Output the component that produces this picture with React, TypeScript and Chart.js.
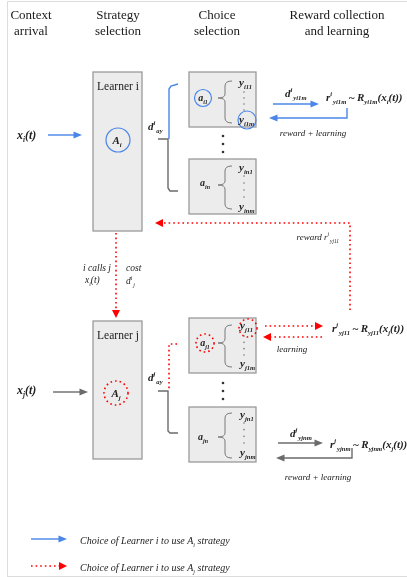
import { useEffect, useRef } from "react";
import { Chart, registerables } from "chart.js";
Chart.register(...registerables);

const VIEW_W = 407;
const VIEW_H = 577;

// column headers: [text, centerX, y]
const headers: [string, number, number][] = [
  ["Context", 31, 15], ["arrival", 31, 31],
  ["Strategy", 118, 15], ["selection", 118, 31],
  ["Choice", 217, 15], ["selection", 217, 31],
  ["Reward collection", 337, 15], ["and learning", 337, 31],
];

// learner / choice boxes: [x1, y1, x2, y2]
const learnerBoxes: number[][] = [[93, 72, 142, 231], [93, 321, 142, 459]];
const choiceBoxes: number[][] = [
  [189, 72, 256, 127], [189, 159, 256, 214],
  [189, 318, 256, 373], [189, 407, 256, 462],
];

// circles: [cx, cy, r, kind]
const circles: [number, number, number, string][] = [
  [118, 140, 12, "blue"], [203, 98, 8.5, "blue"], [247, 120, 9, "blue"],
  [116, 393, 12, "red"], [205, 343, 9, "red"], [248, 328, 9, "red"],
];

// curly braces inside choice boxes: [xTip, yTop, yMid, yBottom]
const braces: number[][] = [
  [218, 81, 98, 123], [218, 166, 185, 209],
  [218, 325, 343, 367], [218, 413, 437, 458],
];

// vertical ellipsis inside boxes: [x, yStart, yEnd, count]
const innerDots: number[][] = [
  [244, 92, 110, 4], [244, 176, 197, 4], [244, 336, 355, 4], [244, 423, 443, 4],
];
// ellipsis between boxes: [x, y]
const outerDots: number[][] = [
  [223, 136], [223, 144], [223, 152], [223, 383], [223, 391], [223, 399],
];

// connectors: points, kind, arrow head at end
const connectors: { pts: number[][]; kind: string; head: boolean }[] = [
  { pts: [[48, 135], [82, 135]], kind: "blue", head: true },
  { pts: [[53, 392], [88, 392]], kind: "gray", head: true },
  { pts: [[116, 233], [116, 318]], kind: "red", head: true },
  { pts: [[350, 310], [350, 223], [155, 223]], kind: "red", head: true },
  { pts: [[273, 104], [319, 104]], kind: "blue", head: true },
  { pts: [[347, 108], [347, 118], [269, 118]], kind: "blue", head: true },
  { pts: [[265, 326], [323, 326]], kind: "red", head: true },
  { pts: [[322, 337], [263, 337]], kind: "red", head: true },
  { pts: [[278, 443], [323, 443]], kind: "gray", head: true },
  { pts: [[352, 448], [352, 458], [276, 458]], kind: "gray", head: true },
  { pts: [[31, 539], [67, 539]], kind: "blue", head: true },
  { pts: [[31, 566], [67, 566]], kind: "red", head: true },
  // big brackets
  { pts: [[178, 84], [171, 86], [169, 89], [169, 139]], kind: "blue", head: false },
  { pts: [[158, 139], [168, 139], [168, 188], [170, 191], [178, 191]], kind: "gray", head: false },
  { pts: [[177, 344], [169, 344], [169, 390]], kind: "red", head: false },
  { pts: [[158, 391], [168, 391], [168, 431], [170, 433], [178, 433]], kind: "gray", head: false },
];

// labels: [text, x, y, size, align, style]
const labels: [string, number, number, number, string, string][] = [
  ["Learner i", 118, 86, 11.5, "c", "plain"],
  ["Learner j", 118, 335, 11.5, "c", "plain"],
  ["A_{i}", 117, 140, 11, "c", "math"],
  ["A_{j}", 116, 393, 11, "c", "math"],
  ["x_{i}(t)", 17, 135, 12, "l", "math"],
  ["x_{j}(t)", 17, 390, 12, "l", "math"],
  ["d^{i}_{ay}", 148, 126, 11, "l", "math"],
  ["d^{j}_{ay}", 148, 377, 11, "l", "math"],
  ["a_{i1}", 203, 98, 10, "c", "math"],
  ["y_{i11}", 239, 82, 11, "l", "math"],
  ["y_{i1m}", 239, 119, 11, "l", "math"],
  ["a_{in}", 205, 183, 10, "c", "math"],
  ["y_{in1}", 239, 167, 11, "l", "math"],
  ["y_{inm}", 239, 206, 11, "l", "math"],
  ["a_{j1}", 205, 343, 10, "c", "math"],
  ["y_{j11}", 240, 325, 11, "l", "math"],
  ["y_{j1m}", 240, 363, 11, "l", "math"],
  ["a_{jn}", 203, 437, 10, "c", "math"],
  ["y_{jn1}", 240, 414, 11, "l", "math"],
  ["y_{jnm}", 240, 452, 11, "l", "math"],
  ["d^{i}_{yi1m}", 285, 93, 11, "l", "math"],
  ["r^{i}_{yi1m}\u2009~\u2009R_{yi1m}(x_{i}(t))", 326, 97, 11, "l", "math"],
  ["reward + learning", 313, 133, 9, "c", "it"],
  ["reward r^{i}_{yj11}", 338, 237, 9, "r", "it"],
  ["i calls j", 111, 268, 9.5, "r", "it"],
  ["x_{i}(t)", 85, 280, 9.5, "l", "it"],
  ["cost", 126, 268, 9.5, "l", "it"],
  ["d^{i}_{j}", 126, 281, 9.5, "l", "it"],
  ["r^{j}_{yj11}\u2009~\u2009R_{yj11}(x_{j}(t))", 332, 328, 11, "l", "math"],
  ["learning", 292, 349, 9, "c", "it"],
  ["d^{j}_{yjnm}", 290, 433, 11, "l", "math"],
  ["r^{j}_{yjnm}\u2009~\u2009R_{yjnm}(x_{j}(t))", 330, 444, 11, "l", "math"],
  ["reward + learning", 318, 477, 9, "c", "it"],
  ["Choice of Learner i to use A_{i} strategy", 80, 541, 10, "l", "it"],
  ["Choice of Learner i to use A_{j} strategy", 80, 568, 10, "l", "it"],
];

const COLORS: Record<string, string> = {
  blue: "#4a86e8",
  red: "#ff0000",
  gray: "#6b6b6b",
};
const FONT = '"Liberation Serif", "DejaVu Serif", serif';

type Seg = { t: string; m: number };
function parseRich(s: string): Seg[] {
  const segs: Seg[] = [];
  let buf = "";
  let i = 0;
  while (i < s.length) {
    const c = s[i];
    if ((c === "_" || c === "^") && s[i + 1] === "{") {
      if (buf) { segs.push({ t: buf, m: 0 }); buf = ""; }
      const end = s.indexOf("}", i);
      segs.push({ t: s.slice(i + 2, end), m: c === "_" ? 1 : 2 });
      i = end + 1;
    } else { buf += c; i++; }
  }
  if (buf) segs.push({ t: buf, m: 0 });
  return segs;
}

function fontFor(style: string, size: number) {
  if (style === "math") return `italic bold ${size}px ${FONT}`;
  if (style === "it") return `italic ${size}px ${FONT}`;
  return `${size}px ${FONT}`;
}

function drawRich(ctx: CanvasRenderingContext2D, text: string, x: number, y: number,
  size: number, align: string, style: string) {
  const segs = parseRich(text);
  const widths: number[] = [];
  let total = 0;
  for (const s of segs) {
    const sz = s.m === 0 ? size : size * 0.6;
    ctx.font = fontFor(style, sz);
    const w = ctx.measureText(s.t).width;
    widths.push(w);
    total += w;
  }
  let cx = align === "c" ? x - total / 2 : align === "r" ? x - total : x;
  ctx.textBaseline = "alphabetic";
  ctx.textAlign = "left";
  const base = y + size * 0.32;
  segs.forEach((s, k) => {
    const sz = s.m === 0 ? size : size * 0.6;
    ctx.font = fontFor(style, sz);
    const dy = s.m === 1 ? size * 0.3 : s.m === 2 ? -size * 0.45 : 0;
    ctx.fillText(s.t, cx, base + dy);
    cx += widths[k] + (s.m === 2 ? 1 : 0);
  });
}

const diagramPlugin = {
  id: "diagram",
  beforeDatasetsDraw(chart: any) {
    const ctx: CanvasRenderingContext2D = chart.ctx;
    const X = (v: number) => chart.scales.x.getPixelForValue(v);
    const Y = (v: number) => chart.scales.y.getPixelForValue(v);
    ctx.save();
    // frame
    ctx.strokeStyle = "#dcdcdc";
    ctx.lineWidth = 1;
    ctx.beginPath();
    ctx.moveTo(X(7.5), Y(VIEW_H));
    ctx.lineTo(X(7.5), Y(1.5));
    ctx.lineTo(X(VIEW_W), Y(1.5));
    ctx.moveTo(X(7.5), Y(576.5));
    ctx.lineTo(X(VIEW_W), Y(576.5));
    ctx.stroke();
    // boxes
    ctx.fillStyle = "#ececec";
    ctx.strokeStyle = "#9a9a9a";
    ctx.lineWidth = 1.3;
    for (const b of [...learnerBoxes, ...choiceBoxes]) {
      const x1 = X(b[0]), y1 = Y(b[1]), x2 = X(b[2]), y2 = Y(b[3]);
      ctx.fillRect(x1, y1, x2 - x1, y2 - y1);
      ctx.strokeRect(x1, y1, x2 - x1, y2 - y1);
    }
    ctx.restore();
  },
  afterDatasetsDraw(chart: any) {
    const ctx: CanvasRenderingContext2D = chart.ctx;
    const X = (v: number) => chart.scales.x.getPixelForValue(v);
    const Y = (v: number) => chart.scales.y.getPixelForValue(v);
    ctx.save();
    // arrow heads
    for (const c of connectors) {
      if (!c.head) continue;
      const n = c.pts.length;
      const [tx, ty] = c.pts[n - 1];
      const [px, py] = c.pts[n - 2];
      const dx = tx - px, dy = ty - py;
      const len = Math.hypot(dx, dy);
      const ux = dx / len, uy = dy / len;
      const L = c.kind === "red" ? 8 : 8.5;
      const hw = c.kind === "red" ? 4 : 3.5;
      ctx.fillStyle = COLORS[c.kind];
      ctx.beginPath();
      ctx.moveTo(X(tx), Y(ty));
      ctx.lineTo(X(tx - ux * L - uy * hw), Y(ty - uy * L + ux * hw));
      ctx.lineTo(X(tx - ux * L + uy * hw), Y(ty - uy * L - ux * hw));
      ctx.closePath();
      ctx.fill();
    }
    // circles
    for (const [cx, cy, r, kind] of circles) {
      ctx.beginPath();
      ctx.arc(X(cx), Y(cy), r, 0, Math.PI * 2);
      ctx.strokeStyle = COLORS[kind];
      if (kind === "red") {
        ctx.lineWidth = 1.6;
        ctx.setLineDash([1.6, 3]);
      } else {
        ctx.lineWidth = 1.2;
        ctx.setLineDash([]);
      }
      ctx.stroke();
    }
    ctx.setLineDash([]);
    // braces
    ctx.strokeStyle = "#7a7a7a";
    ctx.lineWidth = 1;
    for (const [xt, y0, ym, y1] of braces) {
      const xm = xt + 7, xr = xt + 14;
      ctx.beginPath();
      ctx.moveTo(X(xr), Y(y0));
      ctx.quadraticCurveTo(X(xm), Y(y0), X(xm), Y(y0 + 5));
      ctx.lineTo(X(xm), Y(ym - 4));
      ctx.quadraticCurveTo(X(xm), Y(ym), X(xt), Y(ym));
      ctx.quadraticCurveTo(X(xm), Y(ym), X(xm), Y(ym + 4));
      ctx.lineTo(X(xm), Y(y1 - 5));
      ctx.quadraticCurveTo(X(xm), Y(y1), X(xr), Y(y1));
      ctx.stroke();
    }
    // dots
    ctx.fillStyle = "#777";
    for (const [x, ya, yb, n] of innerDots) {
      for (let k = 0; k < n; k++) {
        const yy = ya + ((yb - ya) * k) / (n - 1);
        ctx.beginPath();
        ctx.arc(X(x), Y(yy), 0.8, 0, Math.PI * 2);
        ctx.fill();
      }
    }
    ctx.fillStyle = "#333";
    for (const [x, y] of outerDots) {
      ctx.beginPath();
      ctx.arc(X(x), Y(y), 1.3, 0, Math.PI * 2);
      ctx.fill();
    }
    // headers
    ctx.fillStyle = "#1a1a1a";
    for (const [t, x, y] of headers) drawRich(ctx, t, X(x), Y(y), 13, "c", "plain");
    // labels
    for (const [t, x, y, s, a, st] of labels) {
      ctx.fillStyle = st === "plain" ? "#1a1a1a" : "#222";
      drawRich(ctx, t, X(x), Y(y), s, a, st);
    }
    ctx.restore();
  },
};

export default function App() {
  const ref = useRef<HTMLCanvasElement>(null);
  useEffect(() => {
    document.body.style.margin = "0";
    const datasets = connectors.map((c) => {
      const pts = c.pts.map((p) => ({ x: p[0], y: p[1] }));
      if (c.head) {
        const n = pts.length;
        const a = pts[n - 2], b = pts[n - 1];
        const len = Math.hypot(b.x - a.x, b.y - a.y);
        const back = 5;
        pts[n - 1] = { x: b.x - ((b.x - a.x) / len) * back, y: b.y - ((b.y - a.y) / len) * back };
      }
      return {
        type: "line" as const,
        data: pts,
        showLine: true,
        borderColor: COLORS[c.kind],
        borderWidth: c.kind === "red" ? 1.6 : 1.4,
        borderDash: c.kind === "red" ? [1.6, 3] : [],
        pointRadius: 0,
        tension: 0,
        fill: false,
        parsing: false as const,
      };
    });
    const chart = new Chart(ref.current!, {
      type: "scatter",
      data: { datasets: datasets as any },
      options: {
        animation: false,
        responsive: false,
        events: [],
        layout: { padding: 0 },
        plugins: { legend: { display: false }, tooltip: { enabled: false } },
        scales: {
          x: { type: "linear", min: 0, max: VIEW_W, display: false },
          y: { type: "linear", min: 0, max: VIEW_H, reverse: true, display: false },
        },
      },
      plugins: [diagramPlugin],
    });
    return () => chart.destroy();
  }, []);
  return (
    <div style={{ position: "absolute", left: 0, top: 0, width: VIEW_W, height: VIEW_H, background: "#fff" }}>
      <canvas ref={ref} width={VIEW_W} height={VIEW_H} style={{ width: VIEW_W, height: VIEW_H, display: "block" }} />
    </div>
  );
}
